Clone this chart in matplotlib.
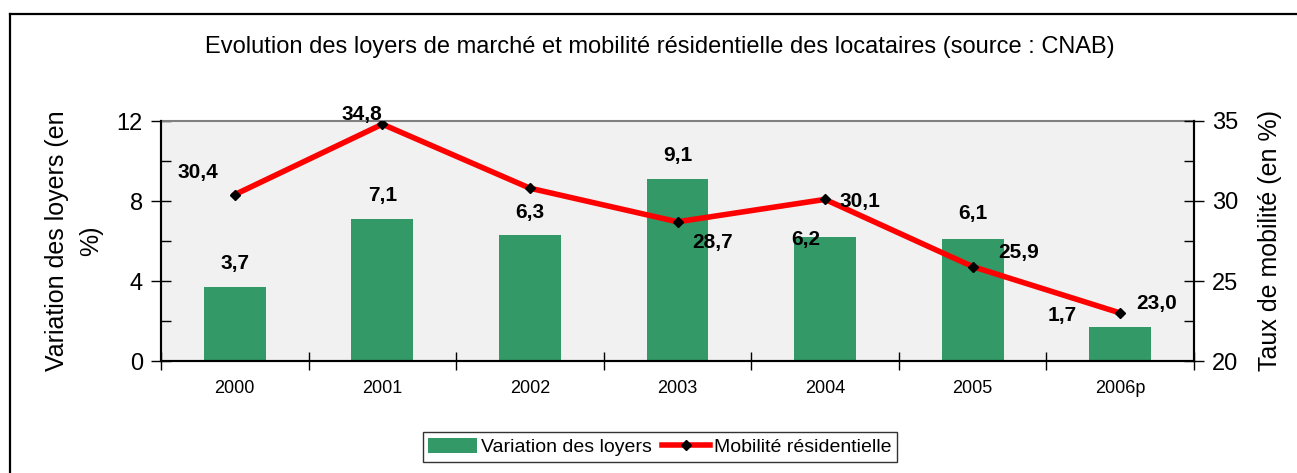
import matplotlib
matplotlib.use("Agg")
import matplotlib.pyplot as plt
import numpy as np
from matplotlib.lines import Line2D
from matplotlib.patches import Patch
from matplotlib.ticker import MultipleLocator

years = ["2000", "2001", "2002", "2003", "2004", "2005", "2006p"]
loyers = [3.7, 7.1, 6.3, 9.1, 6.2, 6.1, 1.7]
mobilite = [30.4, 34.8, 30.8, 28.7, 30.1, 25.9, 23.0]
# which line points carry a label (2002 has none on the reference)
mobilite_labels = ["30,4", "34,8", None, "28,7", "30,1", "25,9", "23,0"]
loyers_labels = ["3,7", "7,1", "6,3", "9,1", "6,2", "6,1", "1,7"]

NARROW = ["Liberation Sans Narrow", "Liberation Sans", "DejaVu Sans"]
REG = ["Liberation Sans", "DejaVu Sans"]

fig = plt.figure(figsize=(12.97, 4.73), dpi=100)

# outer frame: only top and left edges are visible
fig.add_artist(Line2D([10 / 1297, 1.0], [1 - 14 / 473] * 2, color="black", lw=1.6))
fig.add_artist(Line2D([10 / 1297] * 2, [0, 1 - 14 / 473], color="black", lw=1.6))

ax = fig.add_axes([161 / 1297, 112 / 473, 1033 / 1297, 240 / 473])
ax.set_facecolor("#f1f1f1")
x = np.arange(len(years))

ax.bar(x, loyers, width=0.42, color="#339966", zorder=2)
ax.set_xlim(-0.5, len(years) - 0.5)
ax.set_ylim(0, 12)
ax.yaxis.set_major_locator(MultipleLocator(4))
ax.yaxis.set_minor_locator(MultipleLocator(2))
ax.set_xticks(np.arange(-0.5, len(years)), minor=False)
ax.set_xticklabels([])
ax.set_xticks(x, minor=True)
ax.set_xticklabels(years, minor=True, fontsize=13, family=REG)
ax.tick_params(axis="x", which="major", direction="inout", length=13, width=1)
ax.tick_params(axis="x", which="minor", length=0, pad=14)
ax.tick_params(axis="y", which="major", direction="inout", length=14, width=1,
               labelsize=17, pad=6)
ax.tick_params(axis="y", which="minor", direction="in", length=7, width=1)
for lab in ax.get_yticklabels():
    lab.set_family(NARROW)
for s in ["left", "bottom", "right"]:
    ax.spines[s].set_linewidth(1.5)
ax.spines["top"].set_color("#808080")
ax.spines["top"].set_linewidth(1.5)
ax.set_ylabel("Variation des loyers (en\n%)", fontsize=18, family=NARROW,
              linespacing=1.5, labelpad=10)

ax2 = ax.twinx()
ax2.plot(x, mobilite, color="#ff0000", lw=4, marker="D", markersize=5,
         markerfacecolor="black", markeredgecolor="black", zorder=3)
ax2.set_ylim(20, 35)
ax2.yaxis.set_major_locator(MultipleLocator(5))
ax2.yaxis.set_minor_locator(MultipleLocator(2.5))
ax2.tick_params(axis="y", which="major", direction="inout", length=14, width=1,
                labelsize=17, pad=6)
ax2.tick_params(axis="y", which="minor", direction="in", length=7, width=1)
for lab in ax2.get_yticklabels():
    lab.set_family(NARROW)
for s in ["left", "bottom", "right"]:
    ax2.spines[s].set_linewidth(1.5)
ax2.spines["top"].set_visible(False)
ax2.set_ylabel("Taux de mobilité (en %)", fontsize=18, family=NARROW, labelpad=14)

# data labels (offsets in pixels)
bar_off = [(0, 24), (0, 23), (0, 23), (0, 23), (-19, -3), (0, 26), (-58, 12)]
for xi, v, t, (dx, dy) in zip(x, loyers, loyers_labels, bar_off):
    ax.annotate(t, (xi, v), xytext=(dx, dy), textcoords="offset pixels",
                ha="center", va="center", fontsize=15, fontweight="bold",
                family=REG, zorder=5)

line_off = [(-37, 22), (-20, 10), None, (35, -21), (35, -2), (46, 14), (36, 10)]
for xi, v, t, off in zip(x, mobilite, mobilite_labels, line_off):
    if t is None:
        continue
    ax2.annotate(t, (xi, v), xytext=off, textcoords="offset pixels",
                 ha="center", va="center", fontsize=15, fontweight="bold",
                 family=REG, zorder=5)

fig.text(660 / 1297, 1 - 47 / 473,
         "Evolution des loyers de marché et mobilité résidentielle des locataires (source : CNAB)",
         ha="center", va="center", fontsize=17, family=NARROW)

handles = [Patch(facecolor="#339966", edgecolor="none", label="Variation des loyers"),
           Line2D([], [], color="#ff0000", lw=4, marker="D", markersize=5,
                  markerfacecolor="black", markeredgecolor="black",
                  label="Mobilité résidentielle")]
leg = fig.legend(handles=handles, loc="center", bbox_to_anchor=(660 / 1297, 1 - 447 / 473),
                 ncol=2, frameon=True, fancybox=False, edgecolor="black",
                 prop={"family": NARROW, "size": 14}, handlelength=2.5,
                 handleheight=0.8, handletextpad=0.2, columnspacing=0.5,
                 borderpad=0.3)
leg.get_frame().set_linewidth(1.0)

fig.savefig("out.png", dpi=100, facecolor="white")
